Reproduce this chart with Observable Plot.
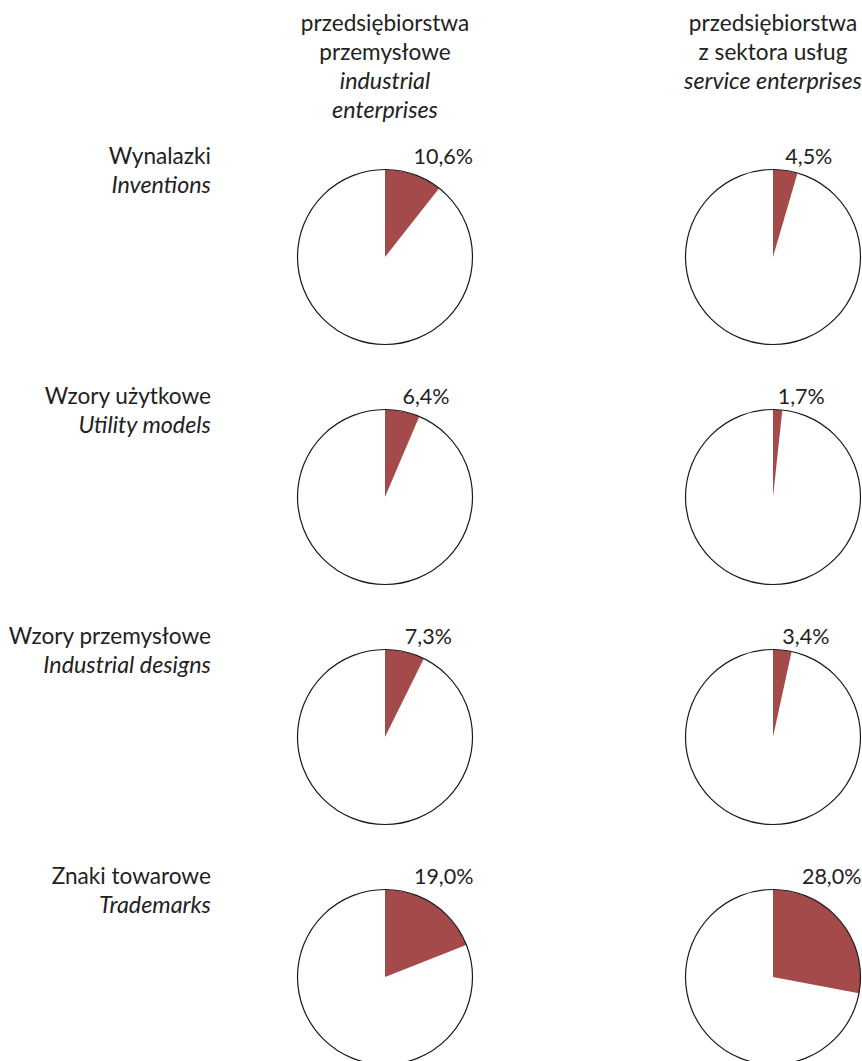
<!DOCTYPE html>
<html><head><meta charset="utf-8">
<script src="https://cdn.jsdelivr.net/npm/d3@7"></script>
<script src="https://cdn.jsdelivr.net/npm/@observablehq/plot@0.6"></script>
<style>body{margin:0;background:#fff}#chart svg{display:block}</style>
</head><body><div id="chart"></div>
<script>
// ---- data ----
const categoriesPL = ["Wynalazki", "Wzory użytkowe", "Wzory przemysłowe", "Znaki towarowe"];
const categoriesEN = ["Inventions", "Utility models", "Industrial designs", "Trademarks"];
const sectorKeys = ["industrial", "services"];
const sectorsPL = ["przedsiębiorstwa\nprzemysłowe", "przedsiębiorstwa\nz sektora usług"];
const sectorsEN = ["industrial\nenterprises", "service enterprises"];
const industrialShare = [10.6, 6.4, 7.3, 19.0];
const servicesShare = [4.5, 1.7, 3.4, 28.0];

// ---- layout constants ----
const W = 862, H = 1061;
const R = 87.5;          // pie radius in px
const FS = 22.6;         // font size (regular)
const FSI = 23.3;        // font size (italic)
const FSP = 21.5;        // font size (percent labels)
const LH = 1.27;         // line height (em)
const mL = 296.1, mT = 173.1;
const halfW = 88.7, halfH = 82.9; // half facet width/height in px
const RED = "#a54a4a", INK = "#222";

const pies = [];
sectorKeys.forEach((s, j) => categoriesPL.forEach((c, i) => {
  pies.push({sector: s, category: c, value: (j === 0 ? industrialShare : servicesShare)[i]});
}));

// slice outline points (centre + arc clockwise from 12 o'clock)
const slicePts = pies.flatMap((d, k) => {
  const a1 = 2 * Math.PI * d.value / 100;
  const n = Math.max(2, Math.ceil(a1 / (Math.PI / 180)));
  const pts = [{...d, key: k, x: 0, y: 0}];
  for (let t = 0; t <= n; ++t) {
    const a = a1 * t / n;
    pts.push({...d, key: k, x: Math.sin(a), y: Math.cos(a)});
  }
  return pts;
});

const labelData = pies.map(d => {
  const mid = Math.PI * d.value / 100;
  return {...d, lx: Math.min(Math.sin(mid), 29 / R), label: d.value.toFixed(1).replace(".", ",") + "%"};
});

const headerData = sectorKeys.map((s, j) => ({sector: s, category: categoriesPL[0], pl: sectorsPL[j], en: sectorsEN[j]}));
const rowData = categoriesPL.map((c, i) => ({sector: sectorKeys[0], category: c, pl: c, en: categoriesEN[i]}));

const chart = Plot.plot({
  width: W, height: H,
  marginLeft: mL, marginRight: 0, marginTop: mT, marginBottom: 0,
  x: {domain: [-halfW / R, halfW / R], axis: null},
  y: {domain: [-halfH / R, halfH / R], axis: null},
  fx: {domain: sectorKeys, paddingInner: 0.5434, paddingOuter: 0, axis: null},
  fy: {domain: categoriesPL, paddingInner: 0.3112, paddingOuter: 0, axis: null},
  style: {fontFamily: "Lato, 'Open Sans', sans-serif", fontSize: FS + "px", color: INK, background: "#fff", overflow: "visible"},
  marks: [
    Plot.line(slicePts, {x: "x", y: "y", z: "key", fx: "sector", fy: "category", fill: RED, stroke: "none", curve: "linear"}),
    Plot.dot(pies, {x: () => 0, y: () => 0, fx: "sector", fy: "category", r: R, fill: "none", stroke: "#1a1a1a", strokeWidth: 1.2}),
    Plot.text(labelData, {x: "lx", y: () => 1, fx: "sector", fy: "category", text: "label", textAnchor: "start", lineAnchor: "bottom", dy: -5.5, fontSize: FSP, fill: INK}),
    Plot.text(headerData, {fx: "sector", fy: "category", frameAnchor: "top", text: "pl", lineAnchor: "top", lineHeight: LH, dy: 29.5 - mT - 0.71 * LH * FS, fontSize: FS, fill: INK}),
    Plot.text(headerData, {fx: "sector", fy: "category", frameAnchor: "top", text: "en", lineAnchor: "top", lineHeight: 28.7 / FSI, dy: 87.5 - mT - 0.71 * 28.7, fontSize: FSI, fontStyle: "italic", fill: INK}),
    Plot.text(rowData, {fx: "sector", fy: "category", frameAnchor: "top-left", text: "pl", textAnchor: "end", lineAnchor: "bottom", dx: -85.6, dy: -10.6, fontSize: FS, fill: INK}),
    Plot.text(rowData, {fx: "sector", fy: "category", frameAnchor: "top-left", text: "en", textAnchor: "end", lineAnchor: "bottom", dx: -85.6, dy: 18.1, fontSize: FSI, fontStyle: "italic", fill: INK})
  ]
});
document.getElementById("chart").append(chart);
</script>
</body></html>
